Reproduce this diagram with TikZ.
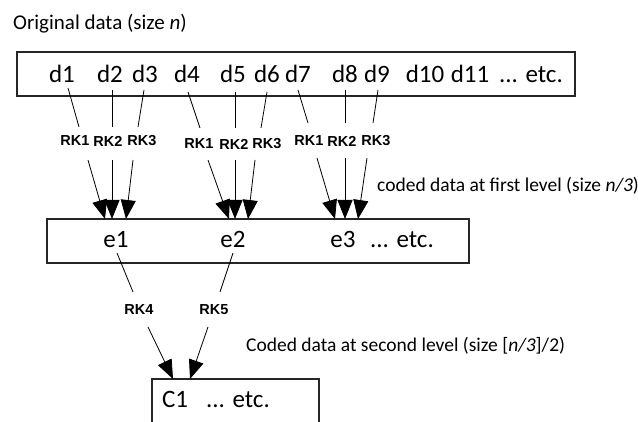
\documentclass[tikz,border=0pt]{standalone}
\usepackage{fontspec}
\setmainfont{Carlito}
\newfontfamily\rkfont{Liberation Sans}
\usetikzlibrary{arrows.meta}
\begin{document}
\begin{tikzpicture}[x=1pt,y=-1pt,
  box/.style={draw=black!85, line width=1.5pt, inner sep=0pt},
  big/.style={font=\fontsize{25}{29}\selectfont, inner sep=0pt, anchor=base},
  rk/.style={font=\rkfont\bfseries\fontsize{14.5}{16}\selectfont, inner sep=0pt},
  lbl/.style={font=\fontsize{19.5}{23}\selectfont, inner sep=0pt, anchor=base west},
  link/.style={line width=0.8pt},
  arr/.style={line width=0.8pt, -{Triangle[length=19pt,width=15pt]}}
]
\useasboundingbox (0,0) rectangle (638,422);
% title
\node[lbl, font=\fontsize{21}{25}\selectfont] (title) at (13,30) {Original data (size \textit{n})};
% boxes
\node[box, minimum width=558pt, minimum height=44pt] (orig) at (296,74) {};
\node[box, minimum width=422pt, minimum height=44pt] (ebox) at (258,241) {};
\node[box, minimum width=167pt, minimum height=60pt] (cbox) at (235.5,409) {};
% d row
\foreach \n/\x in {d1/62,d2/110,d3/145,d4/187,d5/233,d6/267,d7/298,d8/345,d9/377,d10/425,d11/470}
  \node[big] (\n) at (\x,83) {\n};
\node[big] (detc) at (531,83) {... etc.};
% e row
\node[big] (e1) at (116,248) {e1};
\node[big] (e2) at (233,248) {e2};
\node[big] (e3) at (343,248) {e3};
\node[big] (eetc) at (402,248) {... etc.};
% C row
\node[big] (c1) at (175,407) {C1};
\node[big] (cetc) at (238,407) {... etc.};
% RK labels
\node[rk] (ra1) at (75,141) {RK1};
\node[rk] (ra2) at (108,141) {RK2};
\node[rk] (ra3) at (142,141) {RK3};
\node[rk] (rb1) at (199,144) {RK1};
\node[rk] (rb2) at (234,144) {RK2};
\node[rk] (rb3) at (267,144) {RK3};
\node[rk] (rc1) at (309,141) {RK1};
\node[rk] (rc2) at (342,141) {RK2};
\node[rk] (rc3) at (376,141) {RK3};
\node[rk] (rk4) at (139,310) {RK4};
\node[rk] (rk5) at (214,310) {RK5};
% side labels
\node[lbl] (lab1) at (377,192) {coded data at first level (size \textit{n/3})};
\node[lbl] (lab2) at (246,352) {Coded data at second level (size [\textit{n/3}]/2)};
% endpoints: d -> RK
\coordinate (da1) at (68,88);  \coordinate (ua1) at (79,127);
\coordinate (da2) at (112,90); \coordinate (ua2) at (112,127);
\coordinate (da3) at (144,90); \coordinate (ua3) at (138,127);
\coordinate (db1) at (188,92); \coordinate (ub1) at (200,128);
\coordinate (db2) at (235,92); \coordinate (ub2) at (235,128);
\coordinate (db3) at (267,92); \coordinate (ub3) at (261,128);
\coordinate (dc1) at (298,90); \coordinate (uc1) at (308,123);
\coordinate (dc2) at (345,90); \coordinate (uc2) at (345,123);
\coordinate (dc3) at (378,90); \coordinate (uc3) at (373,123);
\foreach \g in {a1,a2,a3,b1,b2,b3,c1,c2,c3}
  \draw[link] (d\g) -- (u\g);
% RK -> e box
\coordinate (sa1) at (88,160);  \coordinate (ta1) at (105,219);
\coordinate (sa2) at (112,160); \coordinate (ta2) at (112,219);
\coordinate (sa3) at (133,160); \coordinate (ta3) at (126,219);
\coordinate (sb1) at (208,160); \coordinate (tb1) at (229,219);
\coordinate (sb2) at (235,160); \coordinate (tb2) at (235,219);
\coordinate (sb3) at (255,160); \coordinate (tb3) at (248,219);
\coordinate (sc1) at (317,158); \coordinate (tc1) at (335,219);
\coordinate (sc2) at (345,158); \coordinate (tc2) at (345,219);
\coordinate (sc3) at (367,158); \coordinate (tc3) at (358,219);
\foreach \g in {a1,a2,a3,b1,b2,b3,c1,c2,c3}
  \draw[arr] (s\g) -- (t\g);
% e -> RK4/RK5 -> C1
\coordinate (e1s) at (117,253); \coordinate (e1t) at (133,292);
\coordinate (e2s) at (233,253); \coordinate (e2t) at (220,292);
\draw[link] (e1s) -- (e1t);
\draw[link] (e2s) -- (e2t);
\coordinate (r4s) at (148,327); \coordinate (r4t) at (173,379);
\coordinate (r5s) at (208,327); \coordinate (r5t) at (190,379);
\draw[arr] (r4s) -- (r4t);
\draw[arr] (r5s) -- (r5t);
\end{tikzpicture}
\end{document}
